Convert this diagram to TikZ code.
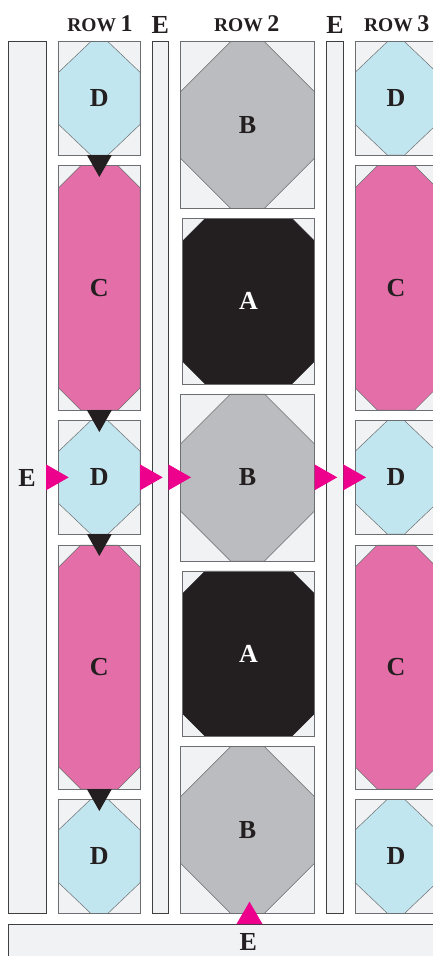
\documentclass[tikz,border=0pt]{standalone}
\usepackage{fontspec}
\setmainfont{Liberation Serif}
\usetikzlibrary{calc}
\pgfdeclarelayer{bg}
\pgfsetlayers{bg,main}
\definecolor{boxfill}{HTML}{F1F2F4}
\definecolor{edgec}{HTML}{6D6E71}
\definecolor{stripc}{HTML}{3F3F42}
\definecolor{blueD}{HTML}{C2E6EF}
\definecolor{pinkC}{HTML}{E46EA8}
\definecolor{grayB}{HTML}{BBBCBF}
\definecolor{blackA}{HTML}{231F20}
\definecolor{magc}{HTML}{EC008C}
\definecolor{ink}{HTML}{231F20}
\tikzset{
  blk/.style={rectangle, inner sep=0pt, outer sep=0pt, font=\fontsize{26}{26}\selectfont\bfseries, text=ink},
  stripst/.style={rectangle, inner sep=0pt, outer sep=0pt, fill=boxfill, draw=stripc, line width=0.8pt, font=\fontsize{26}{26}\selectfont\bfseries, text=ink},
  lbl/.style={inner sep=0pt, font=\fontsize{26}{26}\selectfont\bfseries, text=ink},
  hdr/.style={inner sep=0pt, anchor=base, text=ink, font=\bfseries},
  boxedge/.style={draw=edgec, line width=0.8pt},
  octD/.style={fill=blueD, draw=edgec, line width=0.5pt},
  octC/.style={fill=pinkC, draw=edgec, line width=0.5pt},
  octB/.style={fill=grayB, draw=edgec, line width=0.5pt},
  octA/.style={fill=blackA, draw=blackA, line width=0.5pt},
  magtri/.style={fill=magc},
  blktri/.style={fill=blackA},
}
% #1 name, #2 x1, #3 y1, #4 x2, #5 y2, #6 hcut, #7 vcut, #8 octagon style, #9 label
\newcommand\qblock[9]{%
  \node[blk, minimum width={(#4)-(#2)}, minimum height={(#5)-(#3)}] (#1) at ({((#2)+(#4))/2},{((#3)+(#5))/2}) {#9};
  \begin{pgfonlayer}{bg}
    \fill[boxfill] (#1.north west) rectangle (#1.south east);
    \path[#8] ([xshift=#6pt]#1.north west) -- ([xshift=-#6pt]#1.north east) -- ([yshift=-#7pt]#1.north east) -- ([yshift=#7pt]#1.south east) -- ([xshift=-#6pt]#1.south east) -- ([xshift=#6pt]#1.south west) -- ([yshift=#7pt]#1.south west) -- ([yshift=-#7pt]#1.north west) -- cycle;
    \draw[boxedge] (#1.north west) rectangle (#1.south east);
  \end{pgfonlayer}}
\newcommand\ptri[2]{%
  \fill[magtri] ($(#1.east |- #2.center)+(0,-13)$) -- ($(#1.east |- #2.center)+(22.7,0)$) -- ($(#1.east |- #2.center)+(0,13)$) -- cycle;}
\newcommand\btri[1]{%
  \fill[blktri] ([xshift=-12.5pt]#1.south) -- ([xshift=12.5pt]#1.south) -- ([yshift=-22pt]#1.south) -- cycle;}
\newcommand\rowlab[1]{{\fontsize{19.5}{20}\selectfont ROW}\hspace{4.5pt}{\fontsize{24}{24}\selectfont #1}}
\begin{document}
\begin{tikzpicture}[x=1pt,y=-1pt]
\path[use as bounding box] (0,0) rectangle (433,956);
% strips
\node[stripst, minimum width=37.7, minimum height=871.6] (eL) at (27.15,477.5) {E};
\node[stripst, minimum width=16, minimum height=871.6] (eM1) at (160.3,477.5) {};
\node[stripst, minimum width=16.6, minimum height=871.6] (eM2) at (335,477.5) {};
\node[stripst, minimum width=460, minimum height=40] (eB) at (238.3,944) {};
\node[lbl] (eBlab) at (248.3,942) {E};
% headers
\node[hdr] (h1) at (100,31.7) {\rowlab{1}};
\node[hdr, font=\fontsize{26}{26}\selectfont\bfseries] (t1) at (160.3,33.8) {E};
\node[hdr] (h2) at (246.7,31.7) {\rowlab{2}};
\node[hdr, font=\fontsize{26}{26}\selectfont\bfseries] (t2) at (335,33.8) {E};
\node[hdr] (h3) at (396.7,31.7) {\rowlab{3}};
% row 1
\qblock{d1}{58.7}{41.7}{140}{155}{32}{30.5}{octD}{D}
\qblock{c1}{58.7}{165.7}{140}{410}{22}{22}{octC}{C}
\qblock{d2}{58.7}{420.7}{140}{534}{32}{30.5}{octD}{D}
\qblock{c2}{58.7}{545}{140}{789}{22}{22}{octC}{C}
\qblock{d3}{58.7}{799.3}{140}{913.3}{32}{30.5}{octD}{D}
% row 2
\qblock{b1}{180.5}{41.7}{314.5}{208.3}{50}{50}{octB}{B}
\qblock{a1}{182.3}{218.3}{314.7}{384}{23}{23}{octA}{\color{white}A}
\qblock{b2}{180.5}{394}{314.5}{561}{50}{50}{octB}{B}
\qblock{a2}{182.3}{571}{314.7}{736.3}{23}{23}{octA}{\color{white}A}
\qblock{b3}{180.5}{746.7}{314.5}{913.3}{50}{50}{octB}{B}
% row 3
\qblock{r3d1}{355.3}{41.7}{436.6}{155}{32}{30.5}{octD}{D}
\qblock{r3c1}{355.3}{165.7}{436.6}{410}{22}{22}{octC}{C}
\qblock{r3d2}{355.3}{420.7}{436.6}{534}{32}{30.5}{octD}{D}
\qblock{r3c2}{355.3}{545}{436.6}{789}{22}{22}{octC}{C}
\qblock{r3d3}{355.3}{799.3}{436.6}{913.3}{32}{30.5}{octD}{D}
% black triangles
\btri{d1}
\btri{c1}
\btri{d2}
\btri{c2}
% magenta triangles
\ptri{eL}{d2}
\ptri{d2}{d2}
\ptri{eM1}{d2}
\ptri{b2}{d2}
\ptri{eM2}{d2}
\fill[magtri] ($(b3.south |- eB.north)+(-11,0)$) -- ($(b3.south |- eB.north)+(15,0)$) -- ($(b3.south |- eB.north)+(2,-22.3)$) -- cycle;
\end{tikzpicture}
\end{document}
